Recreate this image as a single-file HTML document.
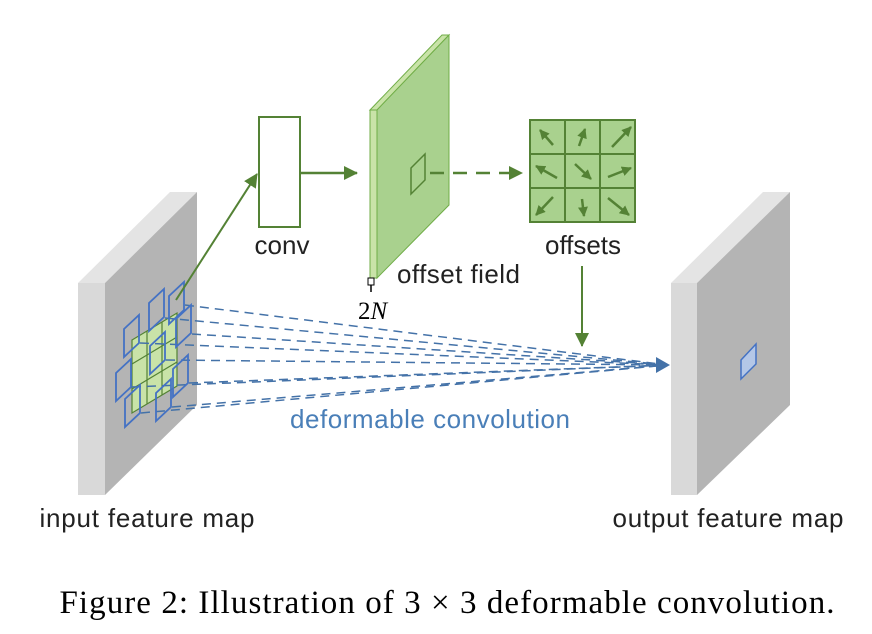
<!DOCTYPE html>
<html><head><style>body{margin:0;background:#fff}svg{display:block}</style></head><body>
<svg width="872" height="634" viewBox="0 0 872 634" xmlns="http://www.w3.org/2000/svg">
<defs>
<marker id="ga" markerWidth="14" markerHeight="14" refX="13" refY="7" orient="auto" markerUnits="userSpaceOnUse"><path d="M0,0 L14,7 L0,14 z" fill="#548235"/></marker>
<marker id="gs" markerWidth="10" markerHeight="10" refX="9" refY="5" orient="auto" markerUnits="userSpaceOnUse"><path d="M0,0 L10,5 L0,10 z" fill="#548235"/></marker>
</defs>
<polygon points="78,283 170,192 197,192 105,283" fill="#e4e4e4"/>
<polygon points="78,283 105,283 105,495 78,495" fill="#d9d9d9"/>
<polygon points="105,283 197,192 197,405 105,495" fill="#b4b4b4"/>
<g stroke="#548235" stroke-width="1.2" fill="#c9e3a8">
<polygon points="132,340 177,313 177,386 132,413"/>
<line x1="147" y1="331" x2="147" y2="404"/><line x1="162" y1="322" x2="162" y2="395"/>
<line x1="132" y1="364" x2="177" y2="337"/><line x1="132" y1="389" x2="177" y2="362"/>
</g>
<g stroke="#4472a8" stroke-width="1.5" stroke-dasharray="9,6" fill="none">
<line x1="185" y1="305" x2="668" y2="365"/><line x1="165" y1="318" x2="668" y2="365"/>
<line x1="192" y1="334" x2="668" y2="365"/><line x1="140" y1="343" x2="668" y2="365"/>
<line x1="166" y1="360" x2="668" y2="365"/><line x1="132" y1="387" x2="668" y2="365"/>
<line x1="189" y1="383" x2="668" y2="365"/><line x1="172" y1="407" x2="668" y2="365"/>
<line x1="141" y1="413" x2="668" y2="365"/>
</g>
<polygon points="670,365 656,357 656,373" fill="#4472a8"/>
<g stroke="#4472c4" stroke-width="1.8" fill="none">
<polygon points="169,310 184,296 184,324 169,338" transform="translate(0,-14)"/>
<polygon points="149,322 164,308 164,336 149,350" transform="translate(0,-19)"/>
<polygon points="124,348 139,334 139,362 124,376" transform="translate(0,-19)"/>
<polygon points="176,338 191,324 191,352 176,366" transform="translate(0,-19)"/>
<polygon points="150,365 165,351 165,379 150,393" transform="translate(0,-19)"/>
<polygon points="116,392 131,378 131,406 116,420" transform="translate(0,-19)"/>
<polygon points="173,388 188,374 188,402 173,416" transform="translate(0,-19)"/>
<polygon points="156,412 171,398 171,426 156,440" transform="translate(0,-19)"/>
<polygon points="125,418 140,404 140,432 125,446" transform="translate(0,-19)"/>
</g>
<line x1="176" y1="300" x2="257" y2="174" stroke="#548235" stroke-width="2" marker-end="url(#ga)"/>
<rect x="259" y="117" width="41" height="110" fill="#fff" stroke="#548235" stroke-width="2"/>
<line x1="300" y1="173" x2="357" y2="173" stroke="#548235" stroke-width="2.5" marker-end="url(#ga)"/>
<polygon points="370,110 442,35 449,35 377,110" fill="#c9e3a8" stroke="#70ad47" stroke-width="1"/>
<polygon points="370,110 377,110 377,278 370,278" fill="#c9e3a8" stroke="#70ad47" stroke-width="1"/>
<polygon points="377,110 449,35 449,205 377,278" fill="#a9d18e" stroke="#70ad47" stroke-width="1"/>
<polygon points="411,168 425,154 425,180 411,194" fill="none" stroke="#548235" stroke-width="1.5"/>
<rect x="368" y="278" width="6" height="7" fill="#fff" stroke="#000" stroke-width="1"/>
<line x1="371" y1="285" x2="371" y2="292" stroke="#000" stroke-width="1.5"/>
<line x1="430" y1="173" x2="522" y2="173" stroke="#548235" stroke-width="2.5" stroke-dasharray="14,9" marker-end="url(#ga)"/>
<g stroke="#548235" stroke-width="2" fill="#a9d18e">
<rect x="530" y="120" width="105" height="102"/>
<line x1="565" y1="120" x2="565" y2="222"/><line x1="600" y1="120" x2="600" y2="222"/>
<line x1="530" y1="154" x2="635" y2="154"/><line x1="530" y1="188" x2="635" y2="188"/>
</g>
<g stroke="#548235" stroke-width="2.5" marker-end="url(#gs)">
<line x1="553" y1="145" x2="540" y2="130"/><line x1="579" y1="146" x2="585" y2="129"/><line x1="612" y1="147" x2="631" y2="127"/>
<line x1="557" y1="178" x2="536" y2="166"/><line x1="575" y1="164" x2="591" y2="179"/><line x1="608" y1="177" x2="631" y2="168"/>
<line x1="553" y1="197" x2="536" y2="215"/><line x1="582" y1="199" x2="584" y2="216"/><line x1="608" y1="198" x2="629" y2="215"/>
</g>
<line x1="582" y1="266" x2="582" y2="346" stroke="#548235" stroke-width="2" marker-end="url(#ga)"/>
<polygon points="671,283 763,192 790,192 697,283" fill="#e4e4e4"/>
<polygon points="671,283 697,283 697,495 671,495" fill="#d9d9d9"/>
<polygon points="697,283 790,192 790,405 697,495" fill="#b4b4b4"/>
<polygon points="741,360 756,344 756,364 741,379" fill="#b4c7e7" stroke="#4472c4" stroke-width="1.5"/>
<g font-family="Liberation Sans, sans-serif" font-size="26" fill="#222">
<text x="282" y="254" text-anchor="middle">conv</text>
<text x="397" y="283" textLength="123">offset field</text>
<text x="583" y="254" text-anchor="middle" textLength="76">offsets</text>
<text x="147" y="527" text-anchor="middle" textLength="215">input feature map</text>
<text x="728" y="527" text-anchor="middle" textLength="231">output feature map</text>
<text x="430" y="428" text-anchor="middle" fill="#4a7fb8" textLength="280">deformable convolution</text>
</g>
<text x="358" y="319" font-family="Liberation Serif, serif" font-size="25" fill="#000">2<tspan font-style="italic">N</tspan></text>
<text x="447" y="613" text-anchor="middle" font-family="Liberation Serif, serif" font-size="33" fill="#000" textLength="775">Figure 2: Illustration of 3 × 3 deformable convolution.</text>
</svg>
</body></html>
